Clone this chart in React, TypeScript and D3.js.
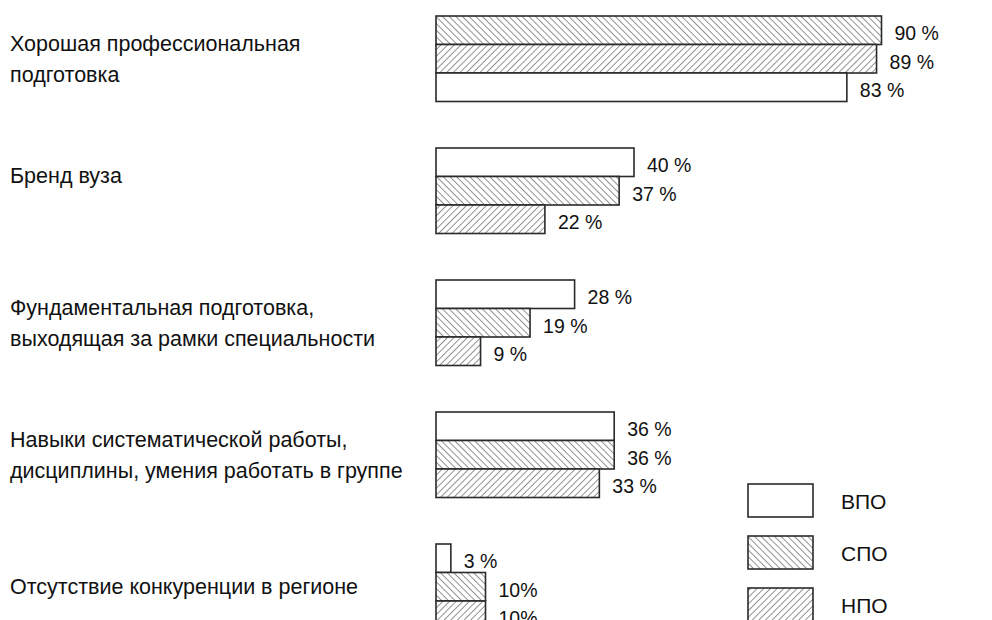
import React from 'react';
import * as d3 from 'd3';

const categories = [
  'Хорошая профессиональная подготовка',
  'Бренд вуза',
  'Фундаментальная подготовка, выходящая за рамки специальности',
  'Навыки систематической работы, дисциплины, умения работать в группе',
  'Отсутствие конкуренции в регионе',
];
const categoryLines = [
  ['Хорошая профессиональная', 'подготовка'],
  ['Бренд вуза', ''],
  ['Фундаментальная подготовка,', 'выходящая за рамки специальности'],
  ['Навыки систематической работы,', 'дисциплины, умения работать в группе'],
  ['Отсутствие конкуренции в регионе'],
];
const seriesNames = ['ВПО', 'СПО', 'НПО'];
const vpoValues = [83, 40, 28, 36, 3];
const spoValues = [90, 37, 19, 36, 10];
const npoValues = [89, 22, 9, 33, 10];
const vpoLabels = ['83 %', '40 %', '28 %', '36 %', '3 %'];
const spoLabels = ['90 %', '37 %', '19 %', '36 %', '10%'];
const npoLabels = ['89 %', '22 %', '9 %', '33 %', '10%'];
// order of the bars inside each group, top to bottom
const barOrder = [
  ['СПО', 'НПО', 'ВПО'],
  ['ВПО', 'СПО', 'НПО'],
  ['ВПО', 'СПО', 'НПО'],
  ['ВПО', 'СПО', 'НПО'],
  ['ВПО', 'СПО', 'НПО'],
];

const W = 992;
const H = 620;
const FONT = '"Liberation Sans", Arial, Helvetica, sans-serif';

const App: React.FC = () => {
  const ref = React.useRef<SVGSVGElement>(null);

  React.useEffect(() => {
    if (!ref.current) return;
    const svg = d3.select(ref.current);
    svg.selectAll('*').remove();

    const values: Record<string, number[]> = { 'ВПО': vpoValues, 'СПО': spoValues, 'НПО': npoValues };
    const labels: Record<string, string[]> = { 'ВПО': vpoLabels, 'СПО': spoLabels, 'НПО': npoLabels };
    const fills: Record<string, string> = { 'ВПО': '#fff', 'СПО': 'url(#hatchBack)', 'НПО': 'url(#hatchFwd)' };

    const defs = svg.append('defs');
    const mkPattern = (id: string, angle: number) => {
      const p = defs.append('pattern')
        .attr('id', id)
        .attr('patternUnits', 'userSpaceOnUse')
        .attr('width', 4.7)
        .attr('height', 4.7)
        .attr('patternTransform', `rotate(${angle})`);
      p.append('rect').attr('width', 4.7).attr('height', 4.7).attr('fill', '#fff');
      p.append('line')
        .attr('x1', 0).attr('y1', 0).attr('x2', 0).attr('y2', 4.7)
        .attr('stroke', '#3a3a3a').attr('stroke-width', 1.1);
    };
    mkPattern('hatchBack', -45);
    mkPattern('hatchFwd', 45);

    const x = d3.scaleLinear().domain([0, 100]).range([436, 931]);

    const step = 132;
    const groupH = 85.5;
    const y0 = d3.scaleBand<string>()
      .domain(categories)
      .range([16, 16 + step * categories.length - (step - groupH)])
      .paddingInner(1 - groupH / step)
      .paddingOuter(0);
    const y1 = d3.scaleBand<number>().domain([0, 1, 2]).range([0, y0.bandwidth()]);

    const root = svg.append('g').style('font-family', FONT);

    // category labels
    categories.forEach((c, i) => {
      const lines = categoryLines[i];
      const mid = (y0(c) || 0) + y0.bandwidth() / 2;
      const lh = 31;
      const top = mid - ((lines.length - 1) * lh) / 2;
      lines.forEach((ln, j) => {
        root.append('text')
          .attr('x', 10)
          .attr('y', top + j * lh)
          .attr('dy', '0.35em')
          .attr('font-size', 21.5)
          .attr('fill', '#111')
          .text(ln);
      });
    });

    // bars
    const bars = categories.flatMap((c, i) =>
      barOrder[i].map((s, slot) => ({ c, i, s, slot, v: values[s][i], label: labels[s][i] })));

    const bg = root.append('g');
    bg.selectAll('rect')
      .data(bars)
      .join('rect')
      .attr('x', x(0))
      .attr('y', d => (y0(d.c) || 0) + (y1(d.slot) || 0))
      .attr('width', d => x(d.v) - x(0))
      .attr('height', y1.bandwidth())
      .attr('fill', d => fills[d.s])
      .attr('stroke', '#2a2a2a')
      .attr('stroke-width', 1.6);

    bg.selectAll('text')
      .data(bars)
      .join('text')
      .attr('x', d => x(d.v) + 13)
      .attr('y', d => (y0(d.c) || 0) + (y1(d.slot) || 0) + y1.bandwidth() / 2 + 3)
      .attr('dy', '0.35em')
      .attr('font-size', 19.5)
      .attr('fill', '#111')
      .text(d => d.label);

    // legend
    const lg = root.append('g').attr('transform', 'translate(748,484)');
    seriesNames.forEach((s, i) => {
      lg.append('rect')
        .attr('x', 0)
        .attr('y', i * 52)
        .attr('width', 65)
        .attr('height', 33)
        .attr('fill', fills[s])
        .attr('stroke', '#2a2a2a')
        .attr('stroke-width', 1.6);
      lg.append('text')
        .attr('x', 93)
        .attr('y', i * 52 + 18)
        .attr('dy', '0.35em')
        .attr('font-size', 21)
        .attr('fill', '#111')
        .text(s);
    });
  }, []);

  return (
    <div style={{ position: 'absolute', left: 0, top: 0, width: W, height: H, background: '#fff', overflow: 'hidden' }}>
      <svg ref={ref} width={W} height={H} viewBox={`0 0 ${W} ${H}`} />
    </div>
  );
};

export default App;
